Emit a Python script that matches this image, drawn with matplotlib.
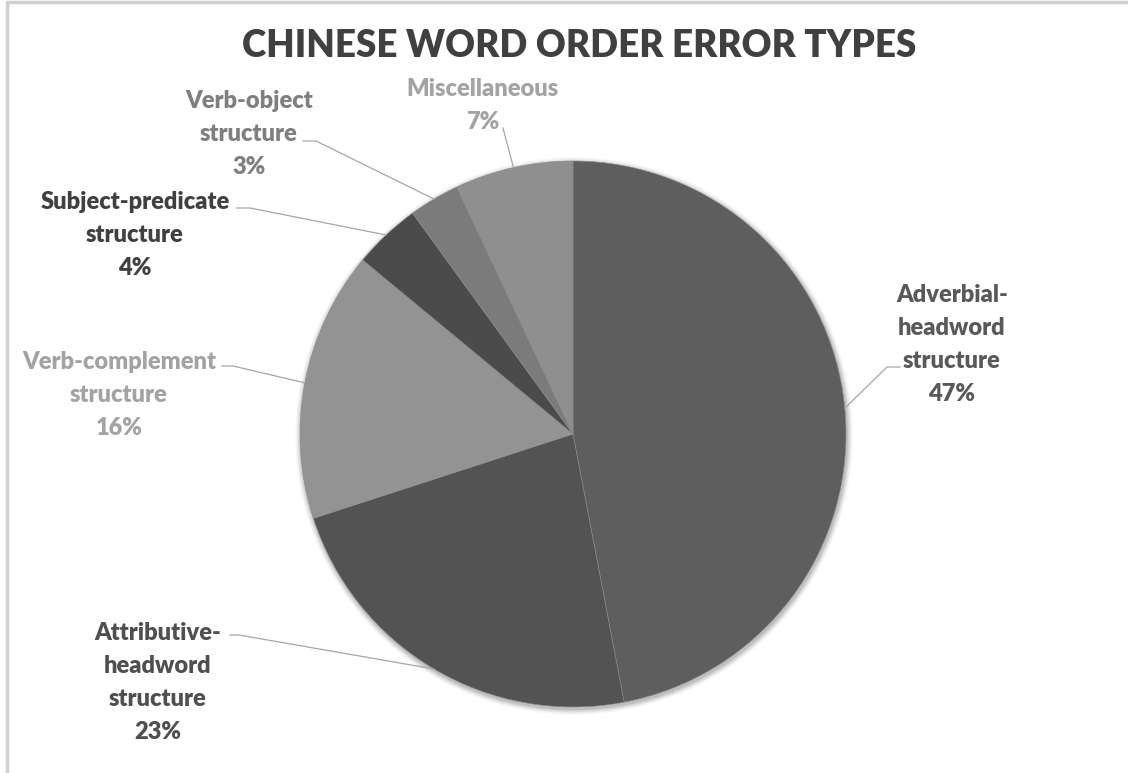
import numpy as np
import matplotlib
matplotlib.use("Agg")
import matplotlib.pyplot as plt

# Chart data
categories = ["Adverbial-\nheadword\nstructure", "Attributive-\nheadword\nstructure",
              "Verb-complement\nstructure", "Subject-predicate\nstructure",
              "Verb-object\nstructure", "Miscellaneous"]
shares = [47, 23, 16, 4, 3, 7]
slice_colors = ["#5e5e5e", "#535353", "#939393", "#4b4b4b", "#7b7b7b", "#8f8f8f"]
label_colors = ["#595959", "#4f4f4f", "#a3a3a3", "#404040", "#7f7f7f", "#a3a3a3"]
title = "CHINESE WORD ORDER ERROR TYPES"

W, H = 1128, 773
plt.rcParams["font.family"] = ["Lato", "DejaVu Sans"]
fig = plt.figure(figsize=(W / 100, H / 100), dpi=100)
ax = fig.add_axes([0, 0, 1, 1])


def py(y):
    """Convert a top-down pixel row into axis units."""
    return H - y


cx, cy, r = 573, py(434), 273

# Soft shadow behind the pie
for k, a in zip(range(6, 0, -1), [0.02, 0.03, 0.04, 0.05, 0.06, 0.08]):
    ax.add_patch(plt.Circle((cx + 1, cy - 2), r + k, color="#000000", alpha=a, lw=0))

wedges, _ = ax.pie(shares, colors=slice_colors, startangle=90, counterclock=False,
                   center=(cx, cy), radius=r, frame=True,
                   wedgeprops=dict(edgecolor="#8c8c8c", linewidth=0.4))
ax.set_xlim(0, W)
ax.set_ylim(0, H)
ax.axis("off")

# Chart frame
ax.plot([7, 7, W + 5], [py(H + 5), py(2), py(2)], color="#d0d0d0", lw=2.5,
        solid_capstyle="butt")

# Label anchor (text centre, first line) and the elbow of each leader line
label_pos = [(952, 295), (158, 633), (119, 362), (135, 202), (249, 101), (483, 89)]
elbows = [[(900, 367), (887, 367)],
          [(230, 635), (239, 635)],
          [(222, 366), (233, 366)],
          [(237, 208), (250, 208)],
          [(303, 141), (316, 141)],
          [(503, 128)]]
line_h = 33

cum = np.cumsum([0] + shares)
total = float(sum(shares))
for i, (name, val) in enumerate(zip(categories, shares)):
    mid = (cum[i] + val / 2) / total * 2 * np.pi
    ex = cx + r * np.sin(mid)
    ey = cy + r * np.cos(mid)
    lx, ly = label_pos[i]
    lines = name.split("\n") + [f"{val}%"]
    for j, t in enumerate(lines):
        ax.text(lx, py(ly + j * line_h), t, ha="center", va="center",
                fontsize=17, fontweight="heavy", color=label_colors[i])
    pts = [(x, py(y)) for x, y in elbows[i]] + [(ex, ey)]
    xs, ys = zip(*pts)
    ax.plot(xs, ys, color="#a6a6a6", lw=0.9)

ax.text(579, py(46), title, ha="center", va="center", fontsize=26.5,
        fontweight="heavy", color="#404040")

fig.savefig("out.png", dpi=100, facecolor="white")
